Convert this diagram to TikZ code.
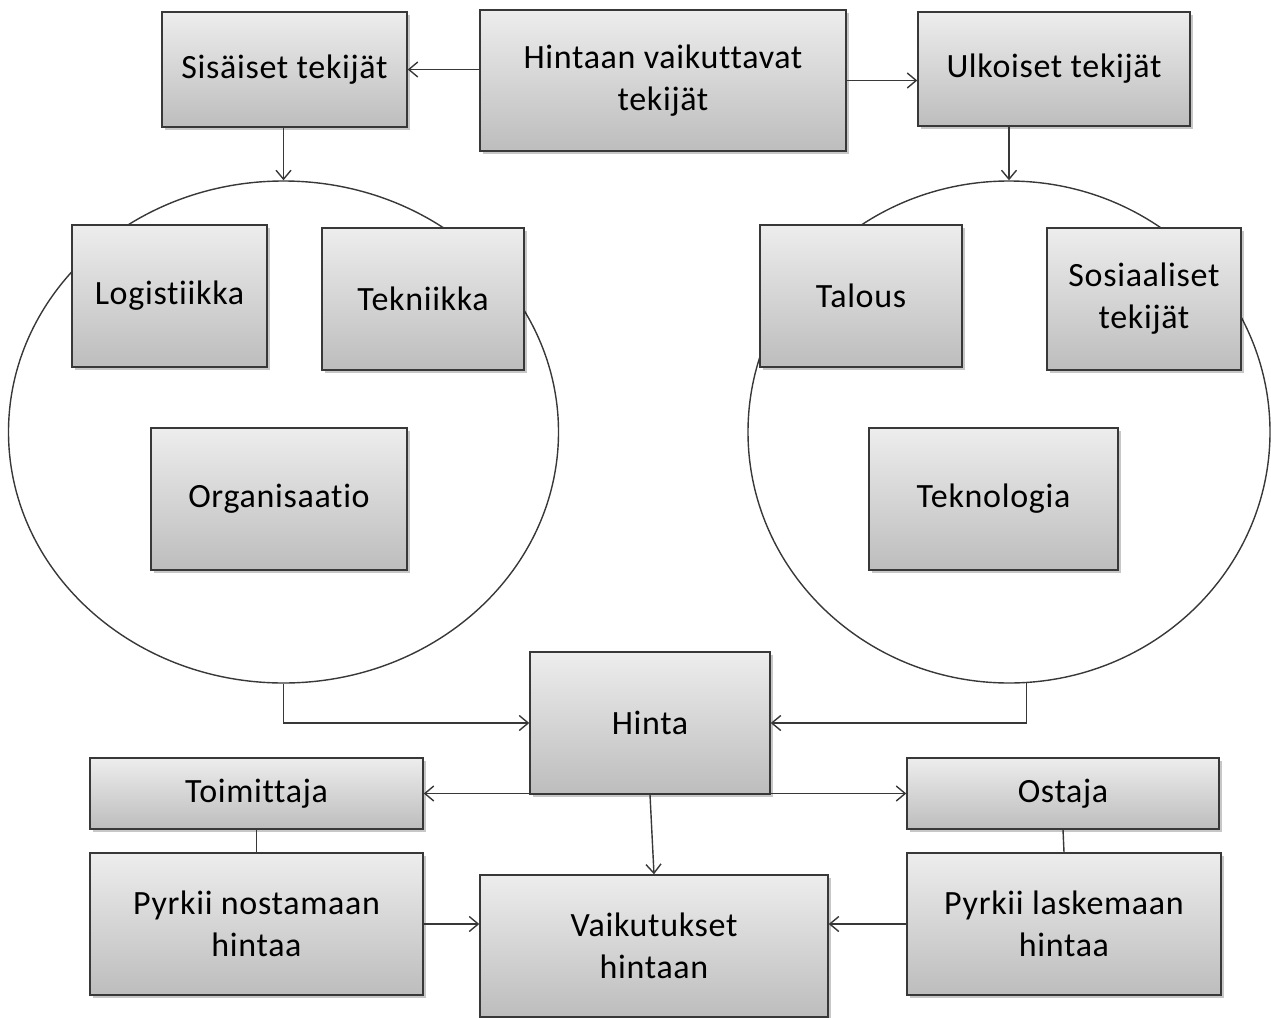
\documentclass[tikz,border=0pt]{standalone}
\usepackage{fontspec}
\setmainfont{Carlito}[Ligatures=NoCommon,LetterSpace=2]
\usetikzlibrary{arrows.meta,shapes.geometric,shadows}
\definecolor{edge}{HTML}{383838}
\definecolor{boxtop}{HTML}{EDEDED}
\definecolor{boxbot}{HTML}{BDBDBD}
\tikzset{
  box/.style={draw=edge, line width=1.4pt, rectangle, align=center,
    top color=boxtop, bottom color=boxbot, inner sep=0pt,
    font=\fontsize{34}{42}\selectfont,
    drop shadow={shadow xshift=2.5pt, shadow yshift=-3pt, opacity=0.22, fill=black}},
  group/.style={draw=edge, line width=1.4pt, ellipse, inner sep=0pt},
  link/.style={draw=edge, line width=1.4pt},
  arr/.style={link, -{Straight Barb[length=9pt,width=15pt,line width=1.4pt]}},
  arrboth/.style={link, {Straight Barb[length=9pt,width=15pt,line width=1.4pt]}-{Straight Barb[length=9pt,width=15pt,line width=1.4pt]}}
}
\begin{document}
\begin{tikzpicture}[x=1pt,y=-1pt]
\useasboundingbox (0,0) rectangle (1271,1017);

% the two groups of factors
\node[group, minimum width=550pt, minimum height=502pt] (circL) at (283.5,432) {};
\node[group, minimum width=522pt, minimum height=502pt] (circR) at (1009,432) {};

% top row
\node[box, minimum width=245pt, minimum height=115pt] (sis) at (284.5,69.5) {Sisäiset tekijät};
\node[box, minimum width=366pt, minimum height=141pt] (hvt) at (663,80.5) {Hintaan vaikuttavat\\tekijät};
\node[box, minimum width=272pt, minimum height=114pt] (ulk) at (1054,69) {Ulkoiset tekijät};

% internal factors
\node[box, minimum width=195pt, minimum height=142pt] (log) at (169.5,296) {Logistiikka};
\node[box, minimum width=202pt, minimum height=142pt] (tek) at (423,299) {Tekniikka};
\node[box, minimum width=256pt, minimum height=142pt] (org) at (279,499) {Organisaatio};

% external factors
\node[box, minimum width=202pt, minimum height=142pt] (tal) at (861,296) {Talous};
\node[box, minimum width=194pt, minimum height=142pt] (sos) at (1144,299) {Sosiaaliset\\tekijät};
\node[box, minimum width=249pt, minimum height=142pt] (tkn) at (993.5,499) {Teknologia};

% price and parties
\node[box, minimum width=240pt, minimum height=142pt] (hinta) at (650,723) {Hinta};
\node[box, minimum width=333pt, minimum height=71pt] (toim) at (256.5,793.5) {Toimittaja};
\node[box, minimum width=312pt, minimum height=71pt] (ost) at (1063,793.5) {Ostaja};
\node[box, minimum width=333pt, minimum height=142pt] (pn) at (256.5,924) {Pyrkii nostamaan\\hintaa};
\node[box, minimum width=348pt, minimum height=142pt] (vh) at (654,946) {Vaikutukset\\hintaan};
\node[box, minimum width=314pt, minimum height=142pt] (pl) at (1064,924) {Pyrkii laskemaan\\hintaa};

% connectors
\draw[arr] (hvt.west |- sis.east) -- (sis.east);
\draw[arr] (hvt.east) -- (hvt.east -| ulk.west);
\draw[arr] (circL.north |- sis.south) -- (circL.north);
\draw[arr] (circR.north |- ulk.south) -- (circR.north);
\draw[arr] (circL.south) |- (hinta.west);
\draw[arr] (circR.-86) |- (hinta.east);
\draw[arrboth] (toim.east) -- (ost.west);
\draw[arr] (hinta.south) -- (vh.north);
\draw[link] (toim.south) -- (pn.north);
\draw[link] (ost.south) -- (pl.north);
\draw[arr] (pn.east) -- (pn.east -| vh.west);
\draw[arr] (pl.west) -- (pl.west -| vh.east);
\end{tikzpicture}
\end{document}
